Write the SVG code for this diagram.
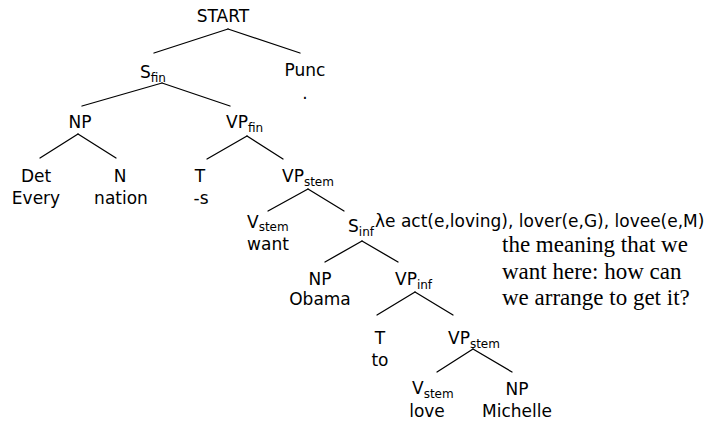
<svg xmlns="http://www.w3.org/2000/svg" width="711" height="424" viewBox="0 0 711 424">
  <style>
    .lbl { font-family: "DejaVu Sans", Verdana, sans-serif; font-size: 17px; fill: #000; }
    .mid { text-anchor: middle; }
    .sub { font-size: 12px; }
    .note { font-family: "Liberation Serif", "Times New Roman", serif; font-size: 23px; fill: #000; }
    .edge { stroke: #000; stroke-width: 1.3; fill: none; stroke-linecap: round; }
  </style>
  <rect width="711" height="424" fill="#fff"/>

  <!-- tree branches -->
  <g id="connectors">
    <line class="edge" x1="228" y1="29" x2="154" y2="53"/>
    <line class="edge" x1="228" y1="29" x2="300" y2="53"/>
    <line class="edge" x1="162" y1="83" x2="82" y2="106"/>
    <line class="edge" x1="162" y1="83" x2="230" y2="106"/>
    <line class="edge" x1="78" y1="134" x2="40" y2="158"/>
    <line class="edge" x1="78" y1="134" x2="116" y2="158"/>
    <line class="edge" x1="247" y1="136" x2="207" y2="159"/>
    <line class="edge" x1="247" y1="136" x2="283" y2="159"/>
    <line class="edge" x1="308" y1="189" x2="268" y2="211"/>
    <line class="edge" x1="308" y1="189" x2="344" y2="211"/>
    <line class="edge" x1="362" y1="241" x2="325" y2="262"/>
    <line class="edge" x1="362" y1="241" x2="398" y2="262"/>
    <line class="edge" x1="415" y1="292" x2="377" y2="315"/>
    <line class="edge" x1="415" y1="292" x2="453" y2="315"/>
    <line class="edge" x1="473" y1="349" x2="437" y2="372"/>
    <line class="edge" x1="473" y1="349" x2="512" y2="372"/>
  </g>

  <g id="start"><text class="lbl mid" x="223" y="22">START</text></g>
  <g id="s-fin"><text class="lbl" x="140" y="78">S<tspan class="sub" dy="4">fin</tspan></text></g>
  <g id="punc">
    <text class="lbl mid" x="305" y="76">Punc</text>
    <text class="lbl mid" x="305" y="99">.</text>
  </g>
  <g id="np-1"><text class="lbl mid" x="80" y="128">NP</text></g>
  <g id="vp-fin"><text class="lbl" x="226" y="128">VP<tspan class="sub" dy="4">fin</tspan></text></g>
  <g id="det">
    <text class="lbl mid" x="36" y="182">Det</text>
    <text class="lbl mid" x="36" y="204">Every</text>
  </g>
  <g id="n">
    <text class="lbl mid" x="120" y="182">N</text>
    <text class="lbl mid" x="121" y="204">nation</text>
  </g>
  <g id="t-1">
    <text class="lbl mid" x="200" y="182">T</text>
    <text class="lbl mid" x="201" y="204">-s</text>
  </g>
  <g id="vp-stem-1"><text class="lbl" x="282" y="182">VP<tspan class="sub" dy="4">stem</tspan></text></g>
  <g id="v-stem-1">
    <text class="lbl" x="247" y="228">V<tspan class="sub" dy="3">stem</tspan></text>
    <text class="lbl mid" x="268" y="250">want</text>
  </g>
  <g id="s-inf">
    <text class="lbl" x="348" y="232">S<tspan class="sub" dy="4">inf</tspan></text>
    <text class="lbl" x="375" y="227">λe act(e,loving), lover(e,G), lovee(e,M)</text>
  </g>
  <g id="note">
    <text class="note" x="502" y="252">the meaning that we</text>
    <text class="note" x="502" y="279">want here: how can</text>
    <text class="note" x="502" y="305">we arrange to get it?</text>
  </g>
  <g id="np-2">
    <text class="lbl mid" x="320" y="285">NP</text>
    <text class="lbl mid" x="320" y="305">Obama</text>
  </g>
  <g id="vp-inf"><text class="lbl" x="395" y="285">VP<tspan class="sub" dy="4">inf</tspan></text></g>
  <g id="t-2">
    <text class="lbl mid" x="380" y="344">T</text>
    <text class="lbl mid" x="380" y="366">to</text>
  </g>
  <g id="vp-stem-2"><text class="lbl" x="448" y="344">VP<tspan class="sub" dy="4">stem</tspan></text></g>
  <g id="v-stem-2">
    <text class="lbl" x="412" y="394">V<tspan class="sub" dy="4">stem</tspan></text>
    <text class="lbl mid" x="427" y="417">love</text>
  </g>
  <g id="np-3">
    <text class="lbl mid" x="517" y="395">NP</text>
    <text class="lbl mid" x="517" y="417">Michelle</text>
  </g>
</svg>
